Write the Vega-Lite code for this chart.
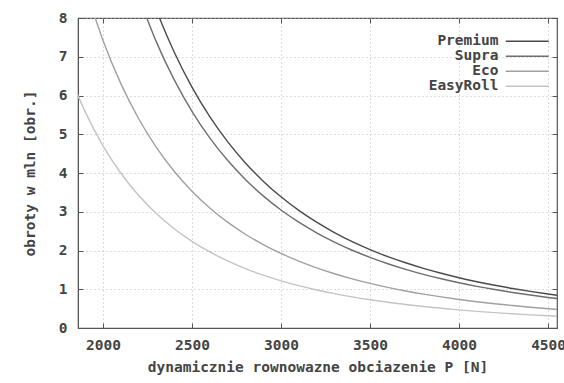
{
  "$schema": "https://vega.github.io/schema/vega-lite/v6.json",
  "autosize": "none",
  "width": 479,
  "height": 310,
  "padding": {"left": 78, "top": 18, "right": 7, "bottom": 55},
  "background": "white",
  "config": {
    "view": {"stroke": "#555", "strokeWidth": 1.2},
    "font": "DejaVu Sans Mono",
    "axis": {
      "labelFont": "DejaVu Sans Mono", "labelFontWeight": "bold", "labelFontSize": 14.5, "labelColor": "#444",
      "titleFont": "DejaVu Sans Mono", "titleFontWeight": "bold", "titleFontSize": 14.5, "titleColor": "#444",
      "domainColor": "#555", "tickColor": "#555", "tickSize": -5,
      "gridColor": "#bbb", "gridDash": [1, 3], "gridWidth": 1
    }
  },
  "data": {"values": [
    {"P": 2200, "L": 9.518, "s": "Premium"}, {"P": 2300, "L": 8.208, "s": "Premium"}, {"P": 2400, "L": 7.122, "s": "Premium"}, {"P": 2500, "L": 6.216, "s": "Premium"}, {"P": 2600, "L": 5.454, "s": "Premium"}, {"P": 2700, "L": 4.809, "s": "Premium"}, {"P": 2800, "L": 4.26, "s": "Premium"}, {"P": 2900, "L": 3.79, "s": "Premium"}, {"P": 3000, "L": 3.385, "s": "Premium"}, {"P": 3100, "L": 3.034, "s": "Premium"}, {"P": 3200, "L": 2.73, "s": "Premium"}, {"P": 3300, "L": 2.464, "s": "Premium"}, {"P": 3400, "L": 2.23, "s": "Premium"}, {"P": 3500, "L": 2.025, "s": "Premium"}, {"P": 3600, "L": 1.843, "s": "Premium"}, {"P": 3700, "L": 1.683, "s": "Premium"}, {"P": 3800, "L": 1.539, "s": "Premium"}, {"P": 3900, "L": 1.412, "s": "Premium"}, {"P": 4000, "L": 1.297, "s": "Premium"}, {"P": 4100, "L": 1.195, "s": "Premium"}, {"P": 4200, "L": 1.103, "s": "Premium"}, {"P": 4300, "L": 1.02, "s": "Premium"}, {"P": 4400, "L": 0.944, "s": "Premium"}, {"P": 4500, "L": 0.876, "s": "Premium"}, {"P": 4550, "L": 0.845, "s": "Premium"},
    {"P": 2200, "L": 8.563, "s": "Supra"}, {"P": 2300, "L": 7.384, "s": "Supra"}, {"P": 2400, "L": 6.408, "s": "Supra"}, {"P": 2500, "L": 5.592, "s": "Supra"}, {"P": 2600, "L": 4.906, "s": "Supra"}, {"P": 2700, "L": 4.327, "s": "Supra"}, {"P": 2800, "L": 3.833, "s": "Supra"}, {"P": 2900, "L": 3.41, "s": "Supra"}, {"P": 3000, "L": 3.045, "s": "Supra"}, {"P": 3100, "L": 2.73, "s": "Supra"}, {"P": 3200, "L": 2.456, "s": "Supra"}, {"P": 3300, "L": 2.216, "s": "Supra"}, {"P": 3400, "L": 2.006, "s": "Supra"}, {"P": 3500, "L": 1.822, "s": "Supra"}, {"P": 3600, "L": 1.658, "s": "Supra"}, {"P": 3700, "L": 1.514, "s": "Supra"}, {"P": 3800, "L": 1.385, "s": "Supra"}, {"P": 3900, "L": 1.27, "s": "Supra"}, {"P": 4000, "L": 1.167, "s": "Supra"}, {"P": 4100, "L": 1.075, "s": "Supra"}, {"P": 4200, "L": 0.992, "s": "Supra"}, {"P": 4300, "L": 0.917, "s": "Supra"}, {"P": 4400, "L": 0.85, "s": "Supra"}, {"P": 4500, "L": 0.788, "s": "Supra"}, {"P": 4550, "L": 0.76, "s": "Supra"},
    {"P": 1900, "L": 8.813, "s": "Eco"}, {"P": 2000, "L": 7.428, "s": "Eco"}, {"P": 2100, "L": 6.313, "s": "Eco"}, {"P": 2200, "L": 5.406, "s": "Eco"}, {"P": 2300, "L": 4.662, "s": "Eco"}, {"P": 2400, "L": 4.045, "s": "Eco"}, {"P": 2500, "L": 3.53, "s": "Eco"}, {"P": 2600, "L": 3.098, "s": "Eco"}, {"P": 2700, "L": 2.732, "s": "Eco"}, {"P": 2800, "L": 2.42, "s": "Eco"}, {"P": 2900, "L": 2.153, "s": "Eco"}, {"P": 3000, "L": 1.923, "s": "Eco"}, {"P": 3100, "L": 1.724, "s": "Eco"}, {"P": 3200, "L": 1.55, "s": "Eco"}, {"P": 3300, "L": 1.399, "s": "Eco"}, {"P": 3400, "L": 1.267, "s": "Eco"}, {"P": 3500, "L": 1.15, "s": "Eco"}, {"P": 3600, "L": 1.047, "s": "Eco"}, {"P": 3700, "L": 0.956, "s": "Eco"}, {"P": 3800, "L": 0.874, "s": "Eco"}, {"P": 3900, "L": 0.802, "s": "Eco"}, {"P": 4000, "L": 0.737, "s": "Eco"}, {"P": 4100, "L": 0.679, "s": "Eco"}, {"P": 4200, "L": 0.626, "s": "Eco"}, {"P": 4300, "L": 0.579, "s": "Eco"}, {"P": 4400, "L": 0.536, "s": "Eco"}, {"P": 4500, "L": 0.498, "s": "Eco"}, {"P": 4550, "L": 0.48, "s": "Eco"},
    {"P": 1850, "L": 6.103, "s": "EasyRoll"}, {"P": 1900, "L": 5.584, "s": "EasyRoll"}, {"P": 2000, "L": 4.707, "s": "EasyRoll"}, {"P": 2100, "L": 4.0, "s": "EasyRoll"}, {"P": 2200, "L": 3.425, "s": "EasyRoll"}, {"P": 2300, "L": 2.954, "s": "EasyRoll"}, {"P": 2400, "L": 2.563, "s": "EasyRoll"}, {"P": 2500, "L": 2.237, "s": "EasyRoll"}, {"P": 2600, "L": 1.963, "s": "EasyRoll"}, {"P": 2700, "L": 1.731, "s": "EasyRoll"}, {"P": 2800, "L": 1.533, "s": "EasyRoll"}, {"P": 2900, "L": 1.364, "s": "EasyRoll"}, {"P": 3000, "L": 1.218, "s": "EasyRoll"}, {"P": 3100, "L": 1.092, "s": "EasyRoll"}, {"P": 3200, "L": 0.982, "s": "EasyRoll"}, {"P": 3300, "L": 0.887, "s": "EasyRoll"}, {"P": 3400, "L": 0.803, "s": "EasyRoll"}, {"P": 3500, "L": 0.729, "s": "EasyRoll"}, {"P": 3600, "L": 0.663, "s": "EasyRoll"}, {"P": 3700, "L": 0.606, "s": "EasyRoll"}, {"P": 3800, "L": 0.554, "s": "EasyRoll"}, {"P": 3900, "L": 0.508, "s": "EasyRoll"}, {"P": 4000, "L": 0.467, "s": "EasyRoll"}, {"P": 4100, "L": 0.43, "s": "EasyRoll"}, {"P": 4200, "L": 0.397, "s": "EasyRoll"}, {"P": 4300, "L": 0.367, "s": "EasyRoll"}, {"P": 4400, "L": 0.34, "s": "EasyRoll"}, {"P": 4500, "L": 0.315, "s": "EasyRoll"}, {"P": 4550, "L": 0.304, "s": "EasyRoll"}
  ]},
  "resolve": {"axis": {"x": "independent", "y": "independent"}},
  "layer": [
    {
      "mark": {"type": "line", "clip": true, "interpolate": "monotone", "strokeWidth": 1.4},
      "encoding": {
        "x": {"field": "P", "type": "quantitative", "scale": {"domain": [1860, 4550], "nice": false, "zero": false},
          "axis": {"values": [2000, 2500, 3000, 3500, 4000, 4500], "format": "d", "title": "dynamicznie rownowazne obciazenie P [N]", "labelPadding": 15, "titlePadding": 9}},
        "y": {"field": "L", "type": "quantitative", "scale": {"domain": [0, 8], "nice": false},
          "axis": {"values": [0, 1, 2, 3, 4, 5, 6, 7, 8], "title": "obroty w mln [obr.]", "labelPadding": 16, "titlePadding": 21}},
        "color": {"field": "s", "type": "nominal",
          "scale": {"domain": ["Premium", "Supra", "Eco", "EasyRoll"], "range": ["#4a4a4a", "#6e6e6e", "#a0a0a0", "#c4c4c4"]},
          "legend": {"title": null, "orient": "none", "legendX": 442, "legendY": 16, "symbolType": "M-4.3,0H4.3", "symbolSize": 100, "symbolStrokeWidth": 1.4,
            "labelAlign": "right", "labelOffset": -36, "labelFont": "DejaVu Sans Mono", "labelFontWeight": "bold", "labelFontSize": 14.5, "labelColor": "#444", "rowPadding": 0}}
      }
    },
    {
      "mark": {"type": "line", "opacity": 0, "clip": true},
      "encoding": {
        "x": {"field": "P", "type": "quantitative",
          "axis": {"orient": "top", "values": [2000, 2500, 3000, 3500, 4000, 4500], "labels": false, "grid": false, "title": null, "domain": false}},
        "y": {"field": "L", "type": "quantitative",
          "axis": {"orient": "right", "values": [0, 1, 2, 3, 4, 5, 6, 7, 8], "labels": false, "grid": false, "title": null, "domain": false}},
        "detail": {"field": "s"}
      }
    }
  ]
}
